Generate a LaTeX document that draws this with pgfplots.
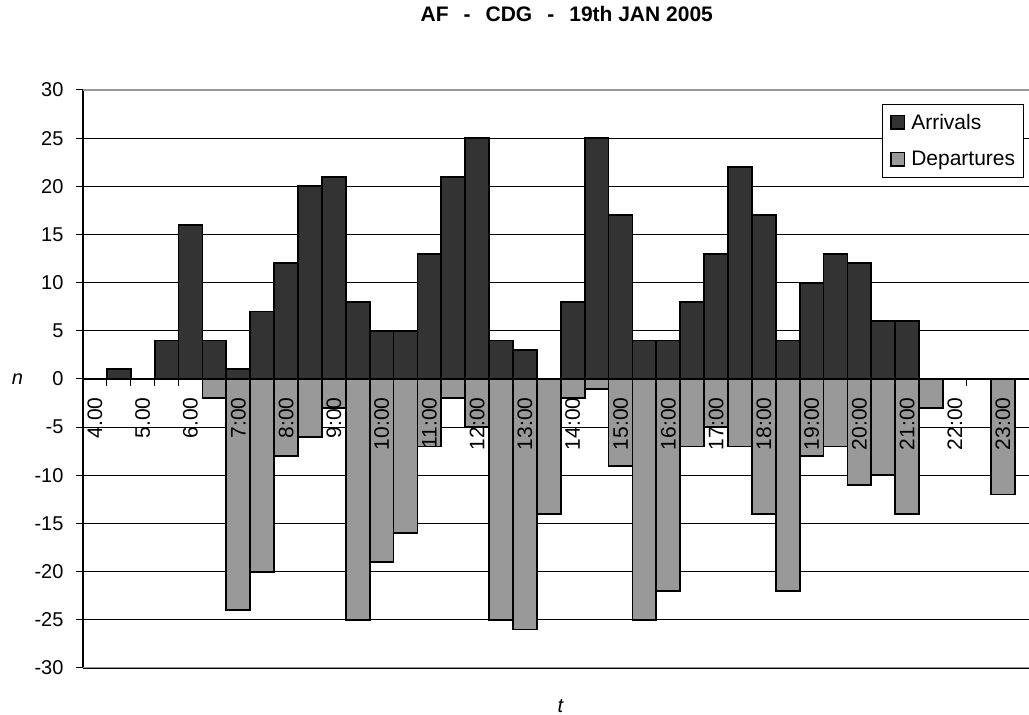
\documentclass[border=0pt]{standalone}
\usepackage{pgfplots}
\pgfplotsset{compat=1.18}
\usepackage{fontspec}
\setmainfont{Liberation Sans}
\definecolor{arr}{HTML}{333333}
\definecolor{dep}{HTML}{999999}
\definecolor{bord}{HTML}{999999}
\pgfplotstableread{
x arr dep
0.5 0 0
1.5 1 0
2.5 0 0
3.5 4 0
4.5 16 0
5.5 4 -2
6.5 1 -24
7.5 7 -20
8.5 12 -8
9.5 20 -6
10.5 21 -3
11.5 8 -25
12.5 5 -19
13.5 5 -16
14.5 13 -7
15.5 21 -2
16.5 25 -5
17.5 4 -25
18.5 3 -26
19.5 0 -14
20.5 8 -2
21.5 25 -1
22.5 17 -9
23.5 4 -25
24.5 4 -22
25.5 8 -7
26.5 13 -5
27.5 22 -7
28.5 17 -14
29.5 4 -22
30.5 10 -8
31.5 13 -7
32.5 12 -11
33.5 6 -10
34.5 6 -14
35.5 0 -3
36.5 0 0
37.5 0 0
38.5 0 -12
}\data
\pgfplotsset{
  common/.style={
    at={(83pt,47pt)}, anchor=south west, scale only axis,
    width=955.6pt, height=578pt,
    xmin=0, xmax=40, ymin=-30, ymax=30,
  },
}
\begin{document}
\begin{tikzpicture}
\begin{axis}[
  common,
  axis x line=middle, axis y line=left,
  axis line style={-, black, line width=1.2pt},
  hide obscured x ticks=false, hide obscured y ticks=false,
  ytick={-30,-25,...,30},
  ymajorgrids, grid style={black, line width=0.9pt},
  tick style={black, line width=1pt},
  xtick align=outside, ytick align=outside,
  major tick length=7pt,
  xtick={1,...,39}, xticklabels={},
  yticklabel shift=9pt,
  yticklabel style={font=\fontsize{20}{24}\selectfont},
  /pgf/number format/assume math mode=true,
  title={\textbf{AF\hspace{15pt}-\hspace{15pt}CDG\hspace{15pt}-\hspace{15pt}19th JAN 2005}},
  title style={at={(axis description cs:0.5,1)}, anchor=base, yshift=62.5pt, xshift=6pt, font=\fontsize{21}{25}\selectfont},
  xlabel={\textit{t}}, ylabel={\textit{n}},
  every axis x label/.style={at={(axis description cs:0.5,0)}, anchor=center, yshift=-38pt, font=\fontsize{20}{24}\selectfont},
  every axis y label/.style={at={(axis description cs:0,0.5)}, anchor=center, xshift=-65.5pt, font=\fontsize{20}{24}\selectfont},
  legend style={at={(axis description cs:0.836,0.976)}, anchor=north west, draw=black, line width=0.8pt, font=\fontsize{21}{25}\selectfont, inner xsep=6pt, inner ysep=7.7pt, row sep=16.6pt, cells={anchor=west}},
  legend image code/.code={\path[draw=none,fill=none] (0pt,0pt) -- (2pt,0pt); \draw[#1, line width=1.5pt] (2.75pt,-6.75pt) rectangle (16.25pt,6.75pt); \path[draw=none,fill=none] (17pt,0pt) -- (21pt,0pt);},
]
\addplot[ybar, bar width=1, bar shift=0pt, fill=arr, draw=black, line width=1.8pt] table[x=x, y=arr] {\data};
\addlegendentry{Arrivals}
\addplot[ybar, bar width=1, bar shift=0pt, fill=dep, draw=black, line width=1.8pt] table[x=x, y=dep] {\data};
\addlegendentry{Departures}
\addplot[ybar, bar width=1, bar shift=0pt, fill=none, draw=black, line width=1.8pt, forget plot] table[x=x, y=arr] {\data};
\addplot[ybar, bar width=1, bar shift=0pt, fill=none, draw=black, line width=1.8pt, forget plot] table[x=x, y=dep] {\data};
\draw[bord, line width=2.5pt] (rel axis cs:0,1) -- (rel axis cs:1,1);
\draw[bord, line width=2.5pt] (rel axis cs:0,0) -- (rel axis cs:1,0);
\end{axis}
\begin{axis}[
  common,
  axis x line=middle, axis y line=none,
  axis line style={draw=none},
  hide obscured x ticks=false,
  major tick length=0pt,
  xtick={0.5,2.5,...,38.5},
  xticklabels={4.00,5.00,6.00,7:00,8:00,9:00,10:00,11:00,12:00,13:00,14:00,15:00,16:00,17:00,18:00,19:00,20:00,21:00,22:00,23:00},
  xticklabel shift=15pt,
  xticklabel style={rotate=90, anchor=east, font=\fontsize{21}{25}\selectfont},
  ytick=\empty,
]
\end{axis}
\pgfresetboundingbox
\path[use as bounding box] (0pt,0pt) rectangle (1029pt,715pt);
\end{tikzpicture}
\end{document}
